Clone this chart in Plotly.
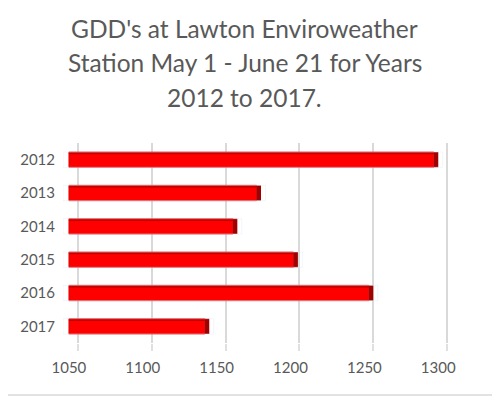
import plotly.graph_objects as go

years = ["2012", "2013", "2014", "2015", "2016", "2017"]
gdd = [1297, 1177, 1161, 1202, 1253, 1142]
tick_vals = [1050, 1100, 1150, 1200, 1250, 1300]
tick_text = ["1050", "1100", "1150", "1200", "1250", "1300"]
title_lines = ["GDD's at Lawton Enviroweather",
               "Station May 1 - June 21 for Years",
               "2012 to 2017."]

GRAY = "#595959"
FONT = "Lato"
BW = 0.46

fig = go.Figure()

# invisible trace to host the back-plane gridline axis
fig.add_trace(go.Bar(y=years, x=[v - 1040 for v in gdd], base=1040, orientation="h",
                     xaxis="x2", marker=dict(color="rgba(0,0,0,0)"),
                     hoverinfo="skip", showlegend=False, width=BW))

# main bar faces
fig.add_trace(go.Bar(y=years, x=[v - 1050 for v in gdd], base=1050, orientation="h",
                     marker=dict(color="#FF0000", line=dict(color="#D00000", width=0.8)),
                     width=BW, showlegend=False))
# top bevel strip
fig.add_trace(go.Bar(y=years, x=[v - 1050 for v in gdd], base=1050, orientation="h",
                     marker=dict(color="#C80000", line=dict(width=0)),
                     width=0.07, offset=-BW / 2, showlegend=False, hoverinfo="skip"))
# right end cap
fig.add_trace(go.Bar(y=years, x=[3.0] * len(gdd), base=gdd, orientation="h",
                     marker=dict(color="#A00000", line=dict(width=0)),
                     width=BW, showlegend=False, hoverinfo="skip"))

fig.update_layout(
    width=492, height=390,
    margin=dict(l=49, r=44, t=135, b=55),
    paper_bgcolor="white", plot_bgcolor="white",
    barmode="overlay",
    font=dict(family=FONT, color=GRAY),
    xaxis=dict(range=[1046, 1312], tickvals=tick_vals, ticktext=tick_text,
               showgrid=False, zeroline=False, showline=False, ticks="",
               tickfont=dict(size=15, color=GRAY, family=FONT),
               ticklabelstandoff=14),
    xaxis2=dict(range=[1040, 1306], overlaying="x", anchor="y", side="bottom",
                tickvals=tick_vals, showticklabels=False,
                showgrid=True, gridcolor="#D9D9D9", gridwidth=1.5,
                zeroline=False, showline=False,
                ticks="outside", ticklen=7, tickcolor="#E0E0E0", tickwidth=1.5),
    yaxis=dict(autorange="reversed", showgrid=False, zeroline=False, showline=False,
               ticks="", tickfont=dict(size=15, color=GRAY, family=FONT),
               ticklabelstandoff=7),
)

for i, line in enumerate(title_lines):
    fig.add_annotation(text=line, x=0.462, xref="paper", yref="paper",
                       y=0, yshift=315 - 34.5 * i,
                       xanchor="center", yanchor="middle", showarrow=False,
                       font=dict(size=24.5, color=GRAY, family=FONT))

fig.add_shape(type="line", xref="paper", yref="paper",
              x0=-0.2, x1=1.2, ysizemode="pixel", yanchor=0, y0=-52, y1=-52,
              line=dict(color="#D9D9D9", width=1.5))

fig.write_html("out.html")
